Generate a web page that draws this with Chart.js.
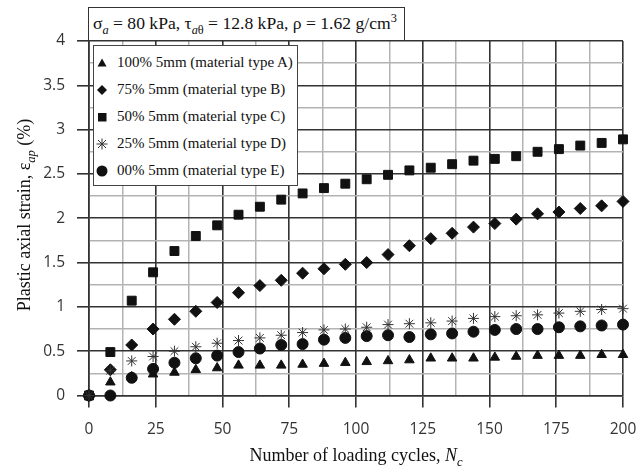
<!DOCTYPE html>
<html><head><meta charset="utf-8">
<script src="https://cdn.jsdelivr.net/npm/chart.js@4/dist/chart.umd.min.js"></script>
<style>
html,body{margin:0;padding:0;background:#fff;}
#wrap{position:relative;width:636px;height:471px;overflow:hidden;background:#fff;}
#c{position:absolute;left:0;top:0;}
.serif{font-family:"Liberation Serif","Times New Roman",serif;color:#111;}
#tbox{position:absolute;left:88px;top:7px;width:317px;height:34px;box-sizing:border-box;border:1.5px solid #333;background:#fff;font-size:17.6px;line-height:31px;padding-left:4px;white-space:nowrap;}
#leg{position:absolute;left:93px;top:45px;width:205px;height:141px;box-sizing:border-box;border:1.5px solid #444;background:#fff;padding-top:3px;}
.row{height:27px;display:flex;align-items:center;font-size:15px;white-space:nowrap;}
.row svg{width:14px;height:14px;margin-left:1px;margin-right:8px;flex:none;}
#ytitle{position:absolute;left:-126px;top:204px;width:300px;height:22px;line-height:22px;text-align:center;font-size:18px;transform:rotate(-90deg);white-space:nowrap;}
#xtitle{position:absolute;left:156px;top:444px;width:400px;height:22px;line-height:22px;text-align:center;font-size:18px;white-space:nowrap;}
sub,sup{font-size:70%;line-height:0;}
</style>
</head><body>
<div id="wrap">
<canvas id="c" width="636" height="471"></canvas>
<div id="tbox" class="serif">σ<sub><i>a</i></sub> = 80 kPa, τ<sub><i>a</i>θ</sub> = 12.8 kPa, ρ = 1.62 g/cm<sup>3</sup></div>
<div id="leg" class="serif"></div>
<div id="ytitle" class="serif">Plastic axial strain, ε<sub><i>ap</i></sub> (%)</div>
<div id="xtitle" class="serif">Number of loading cycles, <i>N<sub>c</sub></i></div>
</div>
<script>
// ---- data ----
const cycles = [0,8,16,24,32,40,48,56,64,72,80,88,96,104,112,120,128,136,144,152,160,168,176,184,192,200];
const typeA = [0,0.15,0.21,0.24,0.26,0.29,0.31,0.34,0.34,0.34,0.35,0.36,0.37,0.38,0.39,0.40,0.42,0.42,0.42,0.43,0.44,0.45,0.45,0.45,0.46,0.46];
const typeB = [0,0.29,0.57,0.75,0.86,0.95,1.05,1.16,1.24,1.30,1.38,1.43,1.48,1.50,1.59,1.69,1.77,1.83,1.90,1.94,1.99,2.05,2.07,2.11,2.14,2.19];
const typeC = [0,0.49,1.07,1.39,1.63,1.80,1.92,2.04,2.13,2.21,2.28,2.34,2.39,2.44,2.49,2.54,2.57,2.61,2.65,2.67,2.70,2.75,2.78,2.82,2.85,2.89];
const typeD = [0,0.28,0.39,0.44,0.50,0.55,0.59,0.62,0.65,0.68,0.71,0.74,0.75,0.77,0.80,0.81,0.82,0.84,0.87,0.89,0.90,0.91,0.93,0.95,0.97,0.98];
const typeE = [0,0.00,0.20,0.30,0.37,0.42,0.45,0.49,0.53,0.57,0.58,0.63,0.65,0.67,0.68,0.66,0.69,0.70,0.72,0.74,0.75,0.75,0.77,0.78,0.79,0.80];
const seriesLabels = ['100% 5mm (material type A)','75% 5mm (material type B)','50% 5mm (material type C)','25% 5mm (material type D)','00% 5mm (material type E)'];

const pts = arr => cycles.map((x,i)=>({x:x,y:arr[i]}));
const styles = [
  {pointStyle:'triangle', pointRadius:5.5, backgroundColor:'#111', borderColor:'#111', borderWidth:1, order:2},
  {pointStyle:'rectRot', pointRadius:6, backgroundColor:'#111', borderColor:'#111', borderWidth:1, order:3},
  {pointStyle:'rect', pointRadius:6.3, backgroundColor:'#111', borderColor:'#111', borderWidth:1, order:4},
  {pointStyle:'star', pointRadius:5.5, backgroundColor:'rgba(0,0,0,0)', borderColor:'#333', borderWidth:1, order:0},
  {pointStyle:'circle', pointRadius:5.5, backgroundColor:'#111', borderColor:'#111', borderWidth:1, order:1}
];
const allSeries = [typeA,typeB,typeC,typeD,typeE];
const datasets = allSeries.map((s,i)=>Object.assign({label:seriesLabels[i], data:pts(s), showLine:false, clip:false}, styles[i]));

// ---- legend (html) ----
const markerSvg = [
  '<svg viewBox="0 0 14 14"><polygon points="7,2.5 11.5,10.5 2.5,10.5" fill="#111"/></svg>',
  '<svg viewBox="0 0 14 14"><polygon points="7,2 12,7 7,12 2,7" fill="#111"/></svg>',
  '<svg viewBox="0 0 14 14"><rect x="3" y="3" width="8.5" height="8.5" fill="#111"/></svg>',
  '<svg viewBox="0 0 14 14"><g stroke="#333" stroke-width="1"><line x1="7" y1="1.5" x2="7" y2="12.5"/><line x1="1.5" y1="7" x2="12.5" y2="7"/><line x1="3" y1="3" x2="11" y2="11"/><line x1="11" y1="3" x2="3" y2="11"/></g></svg>',
  '<svg viewBox="0 0 14 14"><circle cx="7" cy="7" r="5.5" fill="#111"/></svg>'
];
document.getElementById('leg').innerHTML = seriesLabels.map((l,i)=>'<div class="row">'+markerSvg[i]+'<span>'+l+'</span></div>').join('');

const major = '#333', minor = '#b3b3b3';
new Chart(document.getElementById('c'), {
  type:'scatter',
  data:{datasets:datasets},
  options:{
    responsive:false, animation:false,
    layout:{padding:{top:41,right:13,left:0,bottom:0}},
    plugins:{legend:{display:false}, tooltip:{enabled:false}},
    scales:{
      x:{type:'linear', min:0, max:200,
        ticks:{stepSize:12.5, autoSkip:false, maxRotation:0, padding:13, color:'#333',
          font:{family:'"Open Sans"', size:15.5},
          callback:v=> (v%25===0 ? String(v) : '')},
        grid:{color:c=> (c.tick && c.tick.value%25===0 ? major : minor), lineWidth:c=> (c.tick && c.tick.value%25===0 ? 1.6 : 1.5),
          tickColor:c=> (c.tick && c.tick.value%25===0 ? major : 'rgba(0,0,0,0)'), tickLength:12, drawTicks:true},
        border:{display:true, color:major, width:1.6},
        afterFit:s=>{s.height=75.5; s.paddingLeft=0; s.paddingRight=0;}
      },
      y:{type:'linear', min:0, max:4,
        ticks:{stepSize:0.25, autoSkip:false, padding:12, color:'#333',
          font:{family:'"Open Sans"', size:15.5},
          callback:v=> (Math.round(v*4)%2===0 ? String(v) : '')},
        grid:{color:c=> (c.tick && Math.round(c.tick.value*4)%2===0 ? major : minor), lineWidth:c=> (c.tick && Math.round(c.tick.value*4)%2===0 ? 1.6 : 1.5),
          tickColor:c=> (c.tick && Math.round(c.tick.value*4)%2===0 ? major : 'rgba(0,0,0,0)'), tickLength:12, drawTicks:true},
        border:{display:true, color:major, width:1.6},
        afterFit:s=>{s.width=89; s.paddingTop=0; s.paddingBottom=0;}
      }
    }
  }
});
</script>
</body></html>
